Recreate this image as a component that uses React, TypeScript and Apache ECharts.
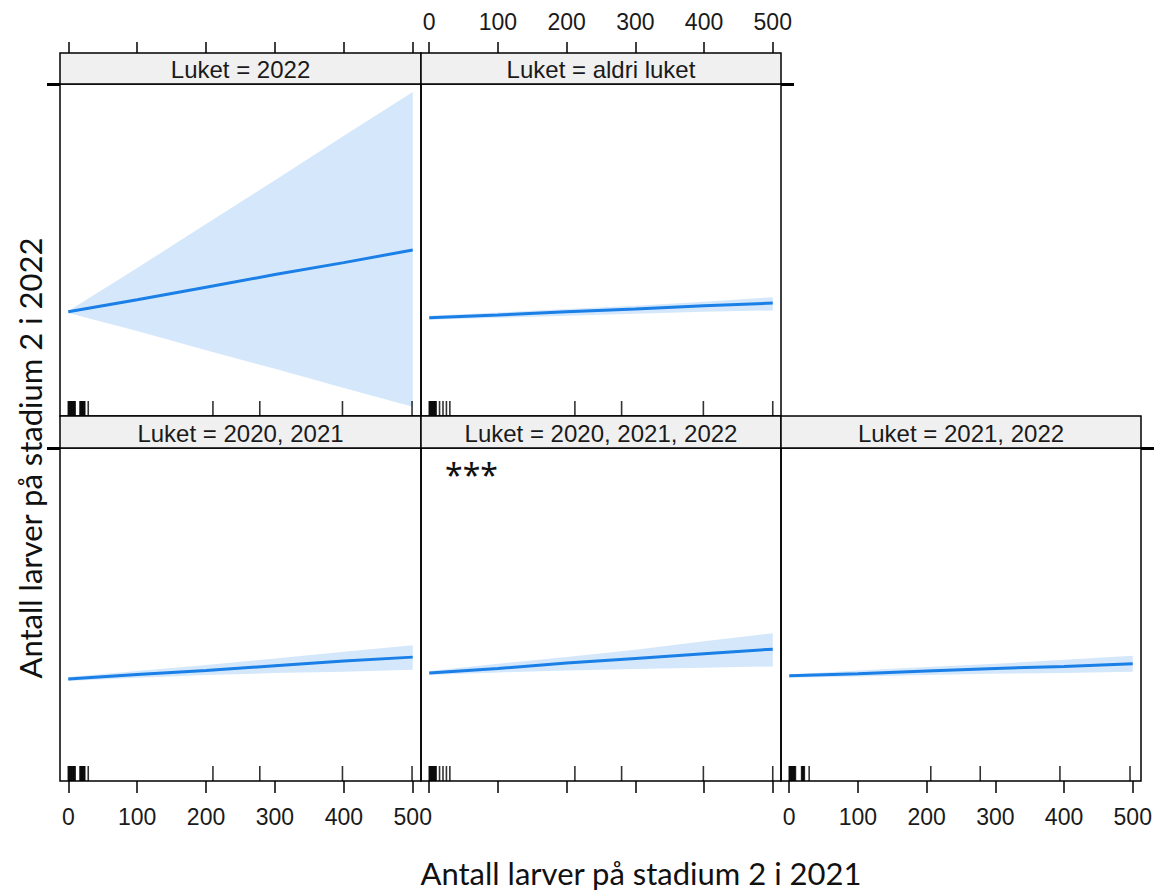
import React, { useEffect, useRef } from "react";
import * as echarts from "echarts";

// x positions where the fitted line and band were read
const xPoints = [0, 100, 200, 300, 400, 500];
const xTickValues = [0, 100, 200, 300, 400, 500];

const panelTitles = [
  "Luket = 2022",
  "Luket = aldri luket",
  "Luket = 2020, 2021",
  "Luket = 2020, 2021, 2022",
  "Luket = 2021, 2022",
];

// Luket = 2022
const fit2022 = [1.57, 1.75, 1.94, 2.13, 2.31, 2.5];
const upper2022 = [1.58, 2.23, 2.89, 3.55, 4.22, 4.88];
const lower2022 = [1.55, 1.28, 0.99, 0.71, 0.42, 0.14];

// Luket = aldri luket
const fitAldri = [1.48, 1.52, 1.57, 1.61, 1.66, 1.7];
const upperAldri = [1.51, 1.56, 1.61, 1.66, 1.72, 1.79];
const lowerAldri = [1.45, 1.48, 1.51, 1.54, 1.57, 1.59];

// Luket = 2020, 2021
const fit2021 = [1.53, 1.6, 1.66, 1.73, 1.8, 1.86];
const upper2021 = [1.56, 1.65, 1.74, 1.84, 1.94, 2.04];
const lower2021 = [1.5, 1.55, 1.59, 1.62, 1.64, 1.67];

// Luket = 2020, 2021, 2022
const fitAll = [1.62, 1.69, 1.77, 1.84, 1.91, 1.98];
const upperAll = [1.65, 1.76, 1.86, 1.97, 2.1, 2.22];
const lowerAll = [1.59, 1.63, 1.66, 1.68, 1.7, 1.72];

// Luket = 2021, 2022
const fit2122 = [1.58, 1.61, 1.65, 1.69, 1.72, 1.76];
const upper2122 = [1.6, 1.66, 1.71, 1.76, 1.82, 1.88];
const lower2122 = [1.55, 1.57, 1.59, 1.61, 1.62, 1.64];

// rug marks (observed x values)
const rugCol1 = [0, 1, 2, 3, 4, 5, 6, 7, 8, 9, 10, 17, 18, 19, 20, 21, 22, 23, 24, 29, 210, 278, 398, 499];
const rugCol2 = [0, 1, 2, 3, 4, 5, 6, 7, 8, 9, 10, 15, 20, 25, 30, 212, 280, 399, 500];
const rugCol3 = [0, 1, 2, 3, 4, 5, 6, 7, 8, 9, 18, 19, 20, 21, 22, 29, 206, 278, 394, 496];

const panelFits = [fit2022, fitAldri, fit2021, fitAll, fit2122];
const panelUppers = [upper2022, upperAldri, upper2021, upperAll, upper2122];
const panelLowers = [lower2022, lowerAldri, lower2021, lowerAll, lower2122];
const panelRugs = [rugCol1, rugCol2, rugCol1, rugCol2, rugCol3];

const LINE = "#1a7fe6";
const BAND = "#d5e8fb";
const STRIP = "#f0f0f0";
const TICK_FONT = "Liberation Sans, Arial, sans-serif";
const TITLE_FONT = "Lato, 'Noto Sans', sans-serif";

const panels = [
  { left: 60, top: 84, width: 361, height: 332, stripTop: 53, stripH: 31 },
  { left: 421, top: 84, width: 360, height: 332, stripTop: 53, stripH: 31 },
  { left: 60, top: 448, width: 361, height: 333, stripTop: 416, stripH: 32 },
  { left: 421, top: 448, width: 360, height: 333, stripTop: 416, stripH: 32 },
  { left: 781, top: 448, width: 360, height: 333, stripTop: 416, stripH: 32 },
];

export default function App() {
  const ref = useRef<HTMLDivElement>(null);

  useEffect(() => {
    if (!ref.current) return;
    const chart = echarts.init(ref.current, undefined, { renderer: "svg" });

    const grids = panels.map((p) => ({
      left: p.left,
      top: p.top,
      width: p.width,
      height: p.height,
      show: true,
      borderColor: "#000",
      borderWidth: 1.5,
      backgroundColor: "transparent",
      containLabel: false,
    }));

    const tickStyle = { color: "#000", width: 1.5 };
    const labelStyle = (show: boolean, margin: number) => ({
      show,
      customValues: xTickValues,
      fontFamily: TICK_FONT,
      fontSize: 23,
      color: "#1a1a1a",
      margin,
      lineHeight: 23,
    });

    const xAxes = panels.map((p, i) => {
      const isTop = i < 2;
      return {
        type: "value",
        gridIndex: i,
        min: -12,
        max: 512,
        position: isTop ? "top" : "bottom",
        offset: isTop ? p.stripH : 0,
        axisLine: { show: false, onZero: false },
        splitLine: { show: false },
        axisTick: {
          show: true,
          customValues: xTickValues,
          length: isTop ? 11 : 12,
          inside: false,
          lineStyle: tickStyle,
        },
        axisLabel: isTop
          ? labelStyle(i === 1, 20)
          : labelStyle(i === 2 || i === 4, 24),
      };
    });

    const yTickPanels: Record<number, "left" | "right"> = {
      0: "left",
      1: "right",
      2: "left",
      4: "right",
    };
    const yAxes = panels.map((p, i) => ({
      type: "value",
      gridIndex: i,
      min: 0,
      max: 5,
      position: yTickPanels[i] || "left",
      axisLine: { show: false, onZero: false },
      splitLine: { show: false },
      axisLabel: { show: false, customValues: [5] },
      axisTick: {
        show: i in yTickPanels,
        customValues: [5],
        length: 13,
        inside: false,
        lineStyle: { color: "#000", width: 3 },
      },
    }));

    const series: any[] = [];
    panels.forEach((p, i) => {
      const upper = panelUppers[i];
      const lower = panelLowers[i];
      series.push({
        type: "custom",
        xAxisIndex: i,
        yAxisIndex: i,
        silent: true,
        data: xPoints.map((x, k) => [x, lower[k], upper[k]]),
        encode: { x: 0, y: [1, 2] },
        renderItem: (params: any, api: any) => {
          if (params.dataIndex !== 0) return null;
          const pts: number[][] = [];
          for (let k = 0; k < xPoints.length; k++) pts.push(api.coord([xPoints[k], upper[k]]));
          for (let k = xPoints.length - 1; k >= 0; k--) pts.push(api.coord([xPoints[k], lower[k]]));
          return {
            type: "polygon",
            shape: { points: pts },
            style: { fill: BAND, stroke: "none" },
          };
        },
        z: 1,
      });
      series.push({
        type: "line",
        xAxisIndex: i,
        yAxisIndex: i,
        silent: true,
        symbol: "none",
        data: xPoints.map((x, k) => [x, panelFits[i][k]]),
        lineStyle: { color: LINE, width: 3 },
        z: 3,
      });
      series.push({
        type: "scatter",
        xAxisIndex: i,
        yAxisIndex: i,
        silent: true,
        symbol: "rect",
        symbolSize: [1.6, 15],
        symbolOffset: [0, "-50%"],
        itemStyle: { color: "#000" },
        data: panelRugs[i].map((v) => [v, 0]),
        z: 4,
      });
    });

    const graphics: any[] = [];
    panels.forEach((p, i) => {
      graphics.push({
        type: "rect",
        shape: { x: p.left, y: p.stripTop, width: p.width, height: p.stripH },
        style: { fill: STRIP, stroke: "#000", lineWidth: 1.5 },
        z: 10,
      });
      graphics.push({
        type: "text",
        x: p.left + p.width / 2,
        y: p.stripTop + p.stripH / 2 + 1,
        style: {
          text: panelTitles[i],
          font: `24px ${TICK_FONT}`,
          fill: "#1a1a1a",
          textAlign: "center",
          textVerticalAlign: "middle",
          verticalAlign: "middle",
        },
        z: 11,
      });
    });
    graphics.push({
      type: "text",
      x: 445,
      y: 474,
      style: {
        text: "***",
        font: `32px 'Noto Sans', sans-serif`,
        fill: "#111",
        textAlign: "left",
        textVerticalAlign: "middle",
        verticalAlign: "middle",
      },
      z: 11,
    });
    graphics.push({
      type: "text",
      x: 641,
      y: 873,
      style: {
        text: "Antall larver på stadium 2 i 2021",
        font: `31px ${TITLE_FONT}`,
        fill: "#111",
        textAlign: "center",
        textVerticalAlign: "middle",
        verticalAlign: "middle",
      },
      z: 11,
    });
    graphics.push({
      type: "text",
      x: 30,
      y: 458,
      rotation: Math.PI / 2,
      style: {
        text: "Antall larver på stadium 2 i 2022",
        font: `31px ${TITLE_FONT}`,
        fill: "#111",
        textAlign: "center",
        textVerticalAlign: "middle",
        verticalAlign: "middle",
      },
      z: 11,
    });

    chart.setOption({
      animation: false,
      backgroundColor: "#fff",
      grid: grids,
      xAxis: xAxes,
      yAxis: yAxes,
      series,
      graphic: graphics,
    });

    return () => chart.dispose();
  }, []);

  return (
    <div
      ref={ref}
      style={{ position: "fixed", left: 0, top: 0, width: 1161, height: 894, background: "#fff" }}
    />
  );
}
